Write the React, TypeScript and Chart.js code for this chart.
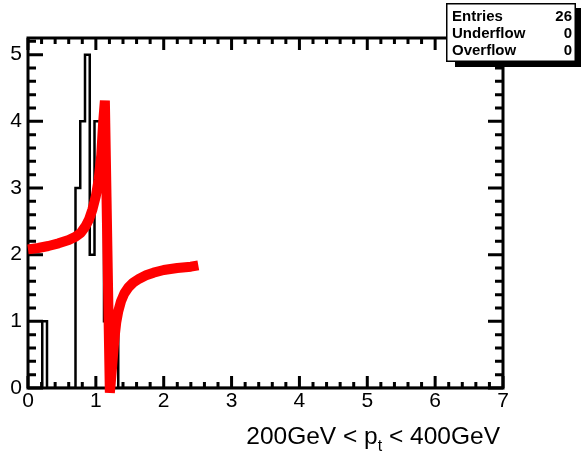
import { useEffect, useRef } from "react";
import { Chart, registerables } from "chart.js";

Chart.register(...registerables);

// ---- data ----
const X_MIN = 0;
const X_MAX = 7;
const Y_MIN = 0;
const Y_MAX = 5.25;
const BIN_COUNT = 100;
const BIN_WIDTH = (X_MAX - X_MIN) / BIN_COUNT;

// non-empty histogram bins (low edge) and their counts
const filledBinLow = [0.21, 0.7, 0.77, 0.84, 0.91, 0.98, 1.05, 1.12, 1.19, 1.26];
const filledBinCounts = [1, 3, 4, 5, 2, 4, 4, 1, 1, 1];

// red fit curve
const fitX = [0, 0.15, 0.3, 0.45, 0.6, 0.7, 0.78, 0.85, 0.9, 0.95, 1.0, 1.04, 1.08, 1.107, 1.133, 1.206, 1.22, 1.24, 1.26, 1.28, 1.3, 1.33, 1.37, 1.42, 1.48, 1.55, 1.64, 1.74, 1.85, 2.0, 2.2, 2.4, 2.51];
const fitY = [2.08, 2.1, 2.13, 2.17, 2.22, 2.27, 2.33, 2.43, 2.53, 2.68, 2.88, 3.12, 3.5, 3.98, 4.31, -0.07, 0.08, 0.33, 0.58, 0.8, 0.98, 1.15, 1.3, 1.42, 1.51, 1.58, 1.64, 1.69, 1.73, 1.77, 1.8, 1.82, 1.84];

const xTickValues = [0, 1, 2, 3, 4, 5, 6, 7];
const yTickValues = [0, 1, 2, 3, 4, 5];

const statLabels = ["Entries", "Underflow", "Overflow"];
const statValues = ["26", "0", "0"];

const axisTitleMain = "200GeV < p";
const axisTitleSub = "t";
const axisTitleEnd = " < 400GeV";

const FONT = "'Liberation Sans', Arial, Helvetica, sans-serif";

function buildHistPoints() {
  const counts = new Array(BIN_COUNT).fill(0);
  filledBinLow.forEach((low, i) => {
    counts[Math.round((low - X_MIN) / BIN_WIDTH)] = filledBinCounts[i];
  });
  const pts: { x: number; y: number }[] = [{ x: X_MIN, y: 0 }];
  for (let i = 0; i < BIN_COUNT; i++) {
    const lo = X_MIN + i * BIN_WIDTH;
    const hi = lo + BIN_WIDTH;
    pts.push({ x: lo, y: counts[i] });
    pts.push({ x: hi, y: counts[i] });
  }
  pts.push({ x: X_MAX, y: 0 });
  return pts;
}

const framePlugin = {
  id: "rootFrame",
  beforeDatasetsDraw(chart: any) {
    const { ctx, chartArea, scales } = chart;
    const { left, right, top, bottom } = chartArea;
    const xs = scales.x;
    const ys = scales.y;
    ctx.save();
    ctx.strokeStyle = "#000";
    ctx.lineWidth = 3;
    ctx.strokeRect(left, top, right - left, bottom - top);
    ctx.beginPath();
    for (let k = 0; k * 0.2 <= Y_MAX + 1e-9; k++) {
      const v = k * 0.2;
      const py = ys.getPixelForValue(v);
      const len = k % 5 === 0 ? 15 : 8;
      ctx.moveTo(left, py);
      ctx.lineTo(left + len, py);
      ctx.moveTo(right, py);
      ctx.lineTo(right - len, py);
    }
    for (let k = 0; k * 0.2 <= X_MAX + 1e-9; k++) {
      const v = k * 0.2;
      const px = xs.getPixelForValue(v);
      const len = k % 5 === 0 ? 12 : 6;
      ctx.moveTo(px, bottom);
      ctx.lineTo(px, bottom - len);
      ctx.moveTo(px, top);
      ctx.lineTo(px, top + len);
    }
    ctx.stroke();
    ctx.restore();
  },
  afterDraw(chart: any) {
    const { ctx } = chart;
    ctx.save();
    ctx.fillStyle = "#000";
    ctx.textBaseline = "alphabetic";
    const mainFont = `24.5px ${FONT}`;
    const subFont = `16px ${FONT}`;
    ctx.font = mainFont;
    const w1 = ctx.measureText(axisTitleMain).width;
    const w3 = ctx.measureText(axisTitleEnd).width;
    ctx.font = subFont;
    const w2 = ctx.measureText(axisTitleSub).width;
    const rightX = 500;
    let x0 = rightX - (w1 + w2 + w3);
    const base = 444;
    ctx.font = mainFont;
    ctx.fillText(axisTitleMain, x0, base);
    x0 += w1;
    ctx.font = subFont;
    ctx.fillText(axisTitleSub, x0, base + 7);
    x0 += w2;
    ctx.font = mainFont;
    ctx.fillText(axisTitleEnd, x0, base);

    // stats box
    ctx.fillStyle = "#000";
    ctx.fillRect(455, 8, 126, 59);
    ctx.fillStyle = "#fff";
    ctx.fillRect(446, 3, 130, 59);
    ctx.strokeStyle = "#000";
    ctx.lineWidth = 1.5;
    ctx.strokeRect(446.75, 3.75, 128.5, 57.5);
    ctx.fillStyle = "#000";
    ctx.font = `bold 15px ${FONT}`;
    const rows = [21, 38, 55];
    statLabels.forEach((lab, i) => {
      ctx.textAlign = "left";
      ctx.fillText(lab, 452, rows[i]);
      ctx.textAlign = "right";
      ctx.fillText(statValues[i], 572, rows[i]);
    });
    ctx.restore();
  },
};

export default function App() {
  const ref = useRef<HTMLCanvasElement | null>(null);
  useEffect(() => {
    document.body.style.margin = "0";
    const canvas = ref.current;
    if (!canvas) return;
    const chart = new Chart(canvas, {
      type: "line",
      data: {
        datasets: [
          {
            label: "fit",
            data: fitX.map((x, i) => ({ x, y: fitY[i] })),
            borderColor: "#ff0000",
            borderWidth: 10,
            pointRadius: 0,
            tension: 0,
            fill: false,
            clip: false as any,
            borderJoinStyle: "bevel",
            borderCapStyle: "butt",
            order: 0,
          },
          {
            label: "hist",
            data: buildHistPoints(),
            borderColor: "#000",
            borderWidth: 2.5,
            pointRadius: 0,
            tension: 0,
            fill: false,
            borderJoinStyle: "miter",
            order: 1,
          },
        ],
      },
      options: {
        animation: false,
        responsive: false,
        maintainAspectRatio: false,
        layout: { padding: { top: 38, right: 78, left: 0, bottom: 0 } },
        plugins: { legend: { display: false }, tooltip: { enabled: false } },
        scales: {
          x: {
            type: "linear",
            min: X_MIN,
            max: X_MAX,
            afterBuildTicks: (s: any) => {
              s.ticks = xTickValues.map((v) => ({ value: v }));
            },
            ticks: {
              font: { family: FONT, size: 21 },
              color: "#000",
              padding: 1,
              maxRotation: 0,
              autoSkip: false,
            },
            grid: { display: false, drawTicks: false },
            border: { display: false },
            afterFit: (s: any) => {
              s.height = 67;
            },
          },
          y: {
            type: "linear",
            min: Y_MIN,
            max: Y_MAX,
            afterBuildTicks: (s: any) => {
              s.ticks = yTickValues.map((v) => ({ value: v }));
            },
            ticks: {
              font: { family: FONT, size: 21 },
              color: "#000",
              padding: 6,
            },
            grid: { display: false, drawTicks: false },
            border: { display: false },
            afterFit: (s: any) => {
              s.width = 28;
            },
          },
        },
      } as any,
      plugins: [framePlugin],
    });
    return () => chart.destroy();
  }, []);
  return (
    <div style={{ width: 581, height: 455, background: "#fff" }}>
      <canvas ref={ref} width={581} height={455} style={{ display: "block" }} />
    </div>
  );
}
